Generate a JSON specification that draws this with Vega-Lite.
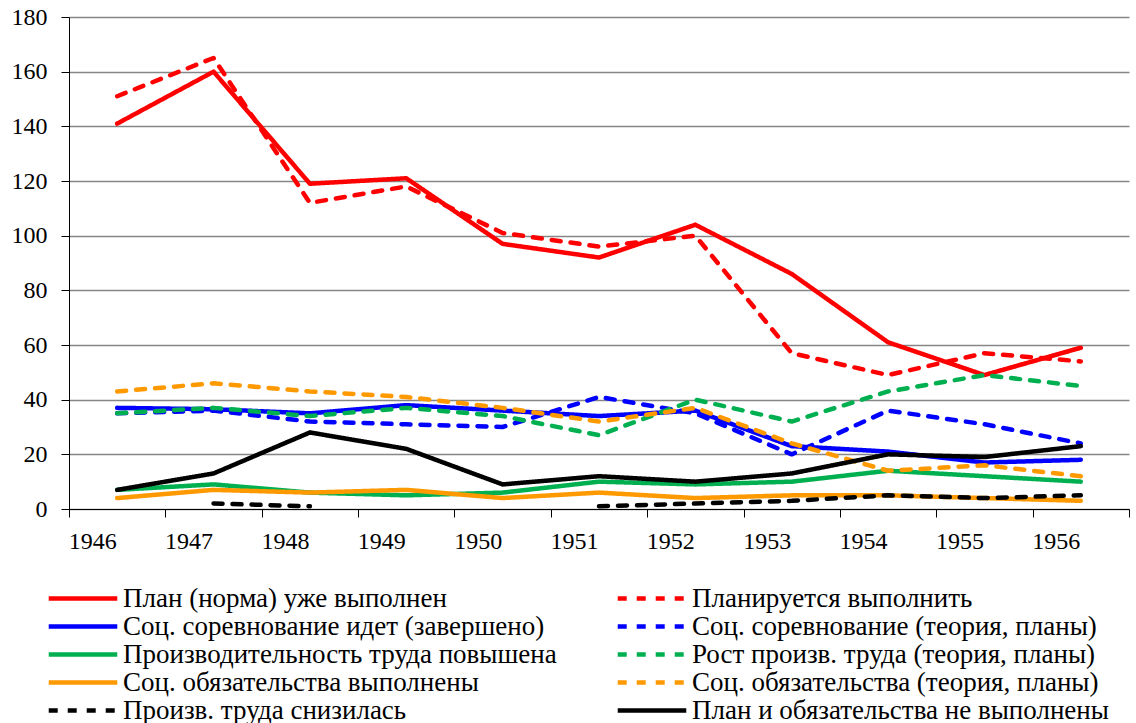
{
  "$schema": "https://vega.github.io/schema/vega-lite/v6.json",
  "width": 1060,
  "height": 492,
  "autosize": "none",
  "padding": {"left": 69, "top": 17, "right": 7, "bottom": 214},
  "background": "white",
  "config": {"view": {"stroke": null}},
  "data": {
    "values": [
      {"year": "1946", "series": "План (норма) уже выполнен", "value": 141},
      {"year": "1947", "series": "План (норма) уже выполнен", "value": 160},
      {"year": "1948", "series": "План (норма) уже выполнен", "value": 119},
      {"year": "1949", "series": "План (норма) уже выполнен", "value": 121},
      {"year": "1950", "series": "План (норма) уже выполнен", "value": 97},
      {"year": "1951", "series": "План (норма) уже выполнен", "value": 92},
      {"year": "1952", "series": "План (норма) уже выполнен", "value": 104},
      {"year": "1953", "series": "План (норма) уже выполнен", "value": 86},
      {"year": "1954", "series": "План (норма) уже выполнен", "value": 61},
      {"year": "1955", "series": "План (норма) уже выполнен", "value": 49},
      {"year": "1956", "series": "План (норма) уже выполнен", "value": 59},
      {"year": "1946", "series": "Планируется выполнить", "value": 151},
      {"year": "1947", "series": "Планируется выполнить", "value": 165},
      {"year": "1948", "series": "Планируется выполнить", "value": 112},
      {"year": "1949", "series": "Планируется выполнить", "value": 118},
      {"year": "1950", "series": "Планируется выполнить", "value": 101},
      {"year": "1951", "series": "Планируется выполнить", "value": 96},
      {"year": "1952", "series": "Планируется выполнить", "value": 100},
      {"year": "1953", "series": "Планируется выполнить", "value": 57},
      {"year": "1954", "series": "Планируется выполнить", "value": 49},
      {"year": "1955", "series": "Планируется выполнить", "value": 57},
      {"year": "1956", "series": "Планируется выполнить", "value": 54},
      {"year": "1946", "series": "Соц. соревнование идет (завершено)", "value": 37},
      {"year": "1947", "series": "Соц. соревнование идет (завершено)", "value": 36.5},
      {"year": "1948", "series": "Соц. соревнование идет (завершено)", "value": 35},
      {"year": "1949", "series": "Соц. соревнование идет (завершено)", "value": 38},
      {"year": "1950", "series": "Соц. соревнование идет (завершено)", "value": 36},
      {"year": "1951", "series": "Соц. соревнование идет (завершено)", "value": 34},
      {"year": "1952", "series": "Соц. соревнование идет (завершено)", "value": 36},
      {"year": "1953", "series": "Соц. соревнование идет (завершено)", "value": 23},
      {"year": "1954", "series": "Соц. соревнование идет (завершено)", "value": 21},
      {"year": "1955", "series": "Соц. соревнование идет (завершено)", "value": 17},
      {"year": "1956", "series": "Соц. соревнование идет (завершено)", "value": 18},
      {"year": "1946", "series": "Соц. соревнование (теория, планы)", "value": 35},
      {"year": "1947", "series": "Соц. соревнование (теория, планы)", "value": 36},
      {"year": "1948", "series": "Соц. соревнование (теория, планы)", "value": 32},
      {"year": "1949", "series": "Соц. соревнование (теория, планы)", "value": 31},
      {"year": "1950", "series": "Соц. соревнование (теория, планы)", "value": 30},
      {"year": "1951", "series": "Соц. соревнование (теория, планы)", "value": 41},
      {"year": "1952", "series": "Соц. соревнование (теория, планы)", "value": 35},
      {"year": "1953", "series": "Соц. соревнование (теория, планы)", "value": 20},
      {"year": "1954", "series": "Соц. соревнование (теория, планы)", "value": 36},
      {"year": "1955", "series": "Соц. соревнование (теория, планы)", "value": 31},
      {"year": "1956", "series": "Соц. соревнование (теория, планы)", "value": 24},
      {"year": "1946", "series": "Производительность труда повышена", "value": 7},
      {"year": "1947", "series": "Производительность труда повышена", "value": 9},
      {"year": "1948", "series": "Производительность труда повышена", "value": 6},
      {"year": "1949", "series": "Производительность труда повышена", "value": 5},
      {"year": "1950", "series": "Производительность труда повышена", "value": 6},
      {"year": "1951", "series": "Производительность труда повышена", "value": 10},
      {"year": "1952", "series": "Производительность труда повышена", "value": 9},
      {"year": "1953", "series": "Производительность труда повышена", "value": 10},
      {"year": "1954", "series": "Производительность труда повышена", "value": 14},
      {"year": "1955", "series": "Производительность труда повышена", "value": 12},
      {"year": "1956", "series": "Производительность труда повышена", "value": 10},
      {"year": "1946", "series": "Рост произв. труда (теория, планы)", "value": 35},
      {"year": "1947", "series": "Рост произв. труда (теория, планы)", "value": 37},
      {"year": "1948", "series": "Рост произв. труда (теория, планы)", "value": 34},
      {"year": "1949", "series": "Рост произв. труда (теория, планы)", "value": 37},
      {"year": "1950", "series": "Рост произв. труда (теория, планы)", "value": 34},
      {"year": "1951", "series": "Рост произв. труда (теория, планы)", "value": 27},
      {"year": "1952", "series": "Рост произв. труда (теория, планы)", "value": 40},
      {"year": "1953", "series": "Рост произв. труда (теория, планы)", "value": 32},
      {"year": "1954", "series": "Рост произв. труда (теория, планы)", "value": 43},
      {"year": "1955", "series": "Рост произв. труда (теория, планы)", "value": 49},
      {"year": "1956", "series": "Рост произв. труда (теория, планы)", "value": 45},
      {"year": "1946", "series": "Соц. обязательства выполнены", "value": 4},
      {"year": "1947", "series": "Соц. обязательства выполнены", "value": 7},
      {"year": "1948", "series": "Соц. обязательства выполнены", "value": 6},
      {"year": "1949", "series": "Соц. обязательства выполнены", "value": 7},
      {"year": "1950", "series": "Соц. обязательства выполнены", "value": 4},
      {"year": "1951", "series": "Соц. обязательства выполнены", "value": 6},
      {"year": "1952", "series": "Соц. обязательства выполнены", "value": 4},
      {"year": "1953", "series": "Соц. обязательства выполнены", "value": 5},
      {"year": "1954", "series": "Соц. обязательства выполнены", "value": 5},
      {"year": "1955", "series": "Соц. обязательства выполнены", "value": 4},
      {"year": "1956", "series": "Соц. обязательства выполнены", "value": 3},
      {"year": "1946", "series": "Соц. обязательства (теория, планы)", "value": 43},
      {"year": "1947", "series": "Соц. обязательства (теория, планы)", "value": 46},
      {"year": "1948", "series": "Соц. обязательства (теория, планы)", "value": 43},
      {"year": "1949", "series": "Соц. обязательства (теория, планы)", "value": 41},
      {"year": "1950", "series": "Соц. обязательства (теория, планы)", "value": 37},
      {"year": "1951", "series": "Соц. обязательства (теория, планы)", "value": 32},
      {"year": "1952", "series": "Соц. обязательства (теория, планы)", "value": 37},
      {"year": "1953", "series": "Соц. обязательства (теория, планы)", "value": 24},
      {"year": "1954", "series": "Соц. обязательства (теория, планы)", "value": 14},
      {"year": "1955", "series": "Соц. обязательства (теория, планы)", "value": 16},
      {"year": "1956", "series": "Соц. обязательства (теория, планы)", "value": 12},
      {"year": "1946", "series": "Произв. труда снизилась", "value": null},
      {"year": "1947", "series": "Произв. труда снизилась", "value": 2},
      {"year": "1948", "series": "Произв. труда снизилась", "value": 1},
      {"year": "1949", "series": "Произв. труда снизилась", "value": null},
      {"year": "1950", "series": "Произв. труда снизилась", "value": null},
      {"year": "1951", "series": "Произв. труда снизилась", "value": 1},
      {"year": "1952", "series": "Произв. труда снизилась", "value": 2},
      {"year": "1953", "series": "Произв. труда снизилась", "value": 3},
      {"year": "1954", "series": "Произв. труда снизилась", "value": 5},
      {"year": "1955", "series": "Произв. труда снизилась", "value": 4},
      {"year": "1956", "series": "Произв. труда снизилась", "value": 5},
      {"year": "1946", "series": "План и обязательства не выполнены", "value": 7},
      {"year": "1947", "series": "План и обязательства не выполнены", "value": 13},
      {"year": "1948", "series": "План и обязательства не выполнены", "value": 28},
      {"year": "1949", "series": "План и обязательства не выполнены", "value": 22},
      {"year": "1950", "series": "План и обязательства не выполнены", "value": 9},
      {"year": "1951", "series": "План и обязательства не выполнены", "value": 12},
      {"year": "1952", "series": "План и обязательства не выполнены", "value": 10},
      {"year": "1953", "series": "План и обязательства не выполнены", "value": 13},
      {"year": "1954", "series": "План и обязательства не выполнены", "value": 20},
      {"year": "1955", "series": "План и обязательства не выполнены", "value": 19},
      {"year": "1956", "series": "План и обязательства не выполнены", "value": 23}
    ]
  },
  "mark": {"type": "line", "strokeWidth": 4.5, "strokeCap": "round", "strokeJoin": "round"},
  "encoding": {
    "x": {
      "field": "year",
      "type": "ordinal",
      "scale": {"type": "band", "paddingInner": 0, "paddingOuter": 0},
      "axis": {
        "title": null,
        "labelAngle": 0,
        "labelFont": "Liberation Serif",
        "labelFontSize": 24,
        "labelColor": "black",
        "labelOffset": -25,
        "labelPadding": 12,
        "tickBand": "extent",
        "tickSize": 8,
        "tickColor": "black",
        "domainColor": "black",
        "grid": false
      }
    },
    "y": {
      "field": "value",
      "type": "quantitative",
      "scale": {"domain": [0, 180], "nice": false},
      "axis": {
        "title": null,
        "values": [0, 20, 40, 60, 80, 100, 120, 140, 160, 180],
        "labelFont": "Liberation Serif",
        "labelFontSize": 24,
        "labelColor": "black",
        "labelPadding": 14,
        "tickSize": 8,
        "tickColor": "black",
        "domainColor": "black",
        "grid": true,
        "gridColor": "#868686",
        "gridWidth": 1.3
      }
    },
    "color": {
      "field": "series",
      "type": "nominal",
      "scale": {
        "domain": ["План (норма) уже выполнен", "Соц. соревнование идет (завершено)", "Производительность труда повышена", "Соц. обязательства выполнены", "Произв. труда снизилась", "Планируется выполнить", "Соц. соревнование (теория, планы)", "Рост произв. труда (теория, планы)", "Соц. обязательства (теория, планы)", "План и обязательства не выполнены"],
        "range": ["#FF0000", "#0000FF", "#00B050", "#FF9900", "#000000", "#FF0000", "#0000FF", "#00B050", "#FF9900", "#000000"]
      },
      "legend": {
        "title": null,
        "orient": "none",
        "legendX": -23,
        "legendY": 568,
        "columns": 2,
        "columnPadding": 58,
        "rowPadding": 0,
        "clipHeight": 27,
        "padding": 0,
        "symbolType": "stroke",
        "symbolSize": 4700,
        "symbolStrokeWidth": 4.5,
        "labelFont": "Liberation Serif",
        "labelFontSize": 27,
        "labelColor": "black",
        "labelOffset": 3,
        "labelLimit": 600
      }
    },
    "strokeDash": {
      "field": "series",
      "type": "nominal",
      "scale": {
        "domain": ["План (норма) уже выполнен", "Соц. соревнование идет (завершено)", "Производительность труда повышена", "Соц. обязательства выполнены", "Произв. труда снизилась", "Планируется выполнить", "Соц. соревнование (теория, планы)", "Рост произв. труда (теория, планы)", "Соц. обязательства (теория, планы)", "План и обязательства не выполнены"],
        "range": [[1, 0], [1, 0], [1, 0], [1, 0], [9, 10], [9, 10], [9, 10], [9, 10], [9, 10], [1, 0]]
      },
      "legend": {
        "title": null,
        "orient": "none",
        "legendX": -23,
        "legendY": 568,
        "columns": 2,
        "columnPadding": 58,
        "rowPadding": 0,
        "clipHeight": 27,
        "padding": 0,
        "symbolType": "stroke",
        "symbolSize": 4700,
        "symbolStrokeWidth": 4.5,
        "labelFont": "Liberation Serif",
        "labelFontSize": 27,
        "labelColor": "black",
        "labelOffset": 3,
        "labelLimit": 600
      }
    }
  }
}
